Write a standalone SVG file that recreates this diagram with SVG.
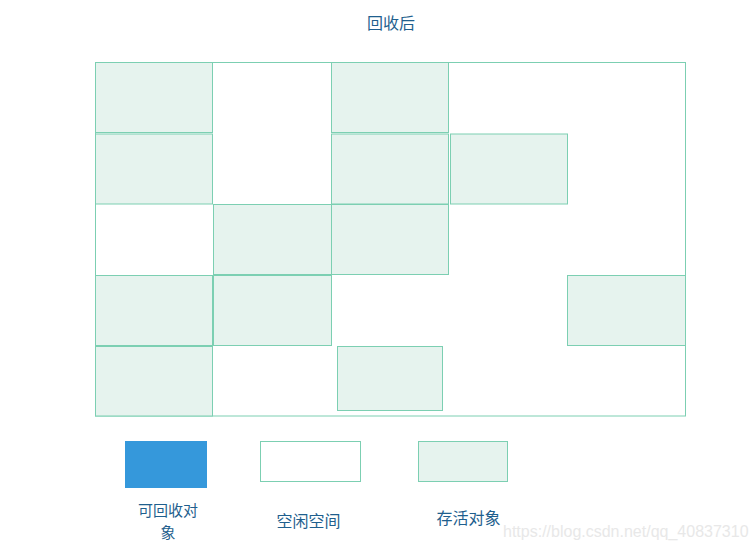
<svg xmlns="http://www.w3.org/2000/svg" width="756" height="551" viewBox="0 0 756 551">
<style>
.live{fill:#e6f3ee;stroke:#7ccfb2;stroke-width:1}
.free{fill:#ffffff;stroke:#7ccfb2;stroke-width:1}
.t{font-family:"Noto Sans CJK SC","Liberation Sans",sans-serif;font-size:16px;fill:#1f5f8e;text-anchor:middle}
.t2{font-size:15px}
.wm{font-family:"Liberation Sans",Arial,sans-serif;font-size:16px;fill:#e8e8e8}
</style>
<rect width="756" height="551" fill="#ffffff"/>
<text class="t" x="391" y="29">回收后</text>
<g id="heap">
<rect class="free" x="95.5" y="62.5" width="590" height="353.5"/>
</g>
<g id="objects">
<rect id="o1" class="live" x="95.5" y="62.5" width="117" height="70"/>
<rect id="o2" class="live" x="331.5" y="62.5" width="117" height="70"/>
<rect id="o3" class="live" x="95.5" y="134" width="117" height="70"/>
<rect id="o4" class="live" x="331.5" y="134" width="117" height="70"/>
<rect id="o5" class="live" x="450.5" y="134" width="117" height="70"/>
<rect id="o6" class="live" x="213.5" y="204.5" width="118" height="70"/>
<rect id="o7" class="live" x="331.5" y="204.5" width="117" height="70"/>
<rect id="o8" class="live" x="95.5" y="275.5" width="117" height="70"/>
<rect id="o9" class="live" x="213.5" y="275.5" width="118" height="70"/>
<rect id="o10" class="live" x="567.5" y="275.5" width="118" height="70"/>
<rect id="o11" class="live" x="95.5" y="346.5" width="117" height="69.5"/>
<rect id="o12" class="live" x="337.5" y="346.5" width="105" height="64"/>
</g>
<g id="legend-recyclable">
<rect x="125" y="441" width="82" height="47" fill="#3598db"/>
<text class="t t2" x="168" y="516">可回收对</text>
<text class="t t2" x="168" y="538">象</text>
</g>
<g id="legend-free">
<rect class="free" x="260.5" y="441.5" width="100" height="40"/>
<text class="t" x="308.5" y="527">空闲空间</text>
</g>
<g id="legend-live">
<rect class="live" x="418.5" y="441.5" width="89" height="40"/>
<text class="t" x="468.5" y="524">存活对象</text>
</g>
<text class="wm" x="503" y="537">https://blog.csdn.net/qq_40837310</text>
</svg>
